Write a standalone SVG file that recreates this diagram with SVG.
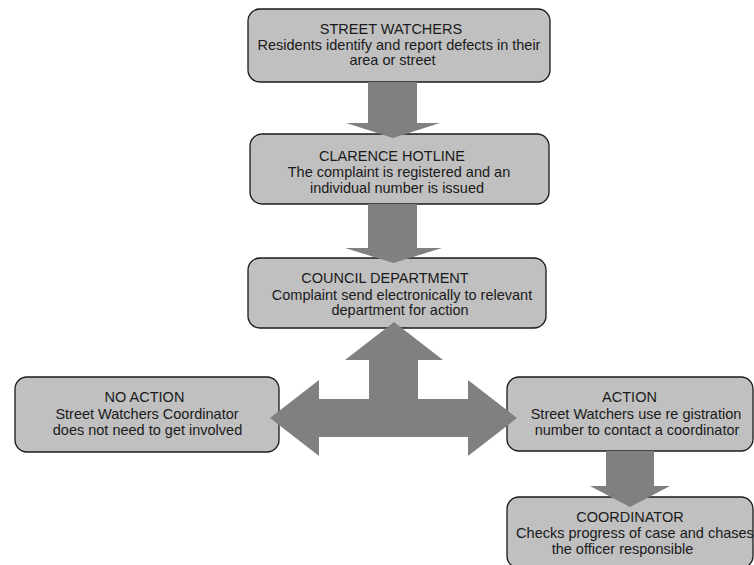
<svg xmlns="http://www.w3.org/2000/svg" width="754" height="565" viewBox="0 0 754 565">
  <style>
    .box { fill: #c0c0c0; stroke: #1a1a1a; stroke-width: 1.3; }
    .lbl { font-family: "Liberation Sans", Arial, sans-serif; font-size: 14.5px; fill: #1a1a1a; text-anchor: middle; }
    .arrow { fill: #808080; stroke: none; }
  </style>
  <rect width="754" height="565" fill="#ffffff"/>

  <g id="street-watchers">
    <rect class="box" x="248" y="9" width="302" height="73" rx="12"/>
    <text class="lbl" x="391" y="34">STREET WATCHERS</text>
    <text class="lbl" x="399" y="49.5">Residents identify and report defects in their</text>
    <text class="lbl" x="392.5" y="65">area or street</text>
  </g>

  <g id="clarence-hotline">
    <rect class="box" x="250" y="134" width="299" height="70" rx="12"/>
    <text class="lbl" x="392" y="161">CLARENCE HOTLINE</text>
    <text class="lbl" x="399" y="177">The complaint is registered and an</text>
    <text class="lbl" x="397" y="192.5">individual number is issued</text>
  </g>

  <g id="council-department">
    <rect class="box" x="248" y="258" width="298" height="70" rx="12"/>
    <text class="lbl" x="385" y="283">COUNCIL DEPARTMENT</text>
    <text class="lbl" x="402" y="299.5">Complaint send electronically to relevant</text>
    <text class="lbl" x="400" y="315">department for action</text>
  </g>

  <g id="no-action">
    <rect class="box" x="15" y="377" width="264" height="75" rx="12"/>
    <text class="lbl" x="144.5" y="402">NO ACTION</text>
    <text class="lbl" x="147" y="418.5">Street Watchers Coordinator</text>
    <text class="lbl" x="147.5" y="434.5">does not need to get involved</text>
  </g>

  <g id="action">
    <rect class="box" x="507" y="377" width="246" height="74" rx="12"/>
    <text class="lbl" x="629.5" y="402">ACTION</text>
    <text class="lbl" x="636" y="418.5">Street Watchers use re gistration</text>
    <text class="lbl" x="637" y="434.5">number to contact a coordinator</text>
  </g>

  <g id="coordinator">
    <rect class="box" x="507" y="497" width="246" height="71" rx="12"/>
    <text class="lbl" x="630" y="522">COORDINATOR</text>
    <text class="lbl" x="635" y="538">Checks progress of case and chases</text>
    <text class="lbl" x="622.5" y="554">the officer responsible</text>
  </g>

  <g id="connectors">
    <polygon class="arrow" points="368,82 417,82 417,123 440,123 393,138 346,123 368,123"/>
    <polygon class="arrow" points="368,204 417,204 417,248 442,248 393.5,263 345,248 368,248"/>
    <polygon class="arrow" points="394,322 443,360 418,360 418,399 468,399 468,380 517,418 468,456 468,437 319,437 319,456 270,418 319,380 319,399 369,399 369,360 345,360"/>
    <polygon class="arrow" points="606,451 654,451 654,486 670,486 630,507 590,486 606,486"/>
  </g>
</svg>
